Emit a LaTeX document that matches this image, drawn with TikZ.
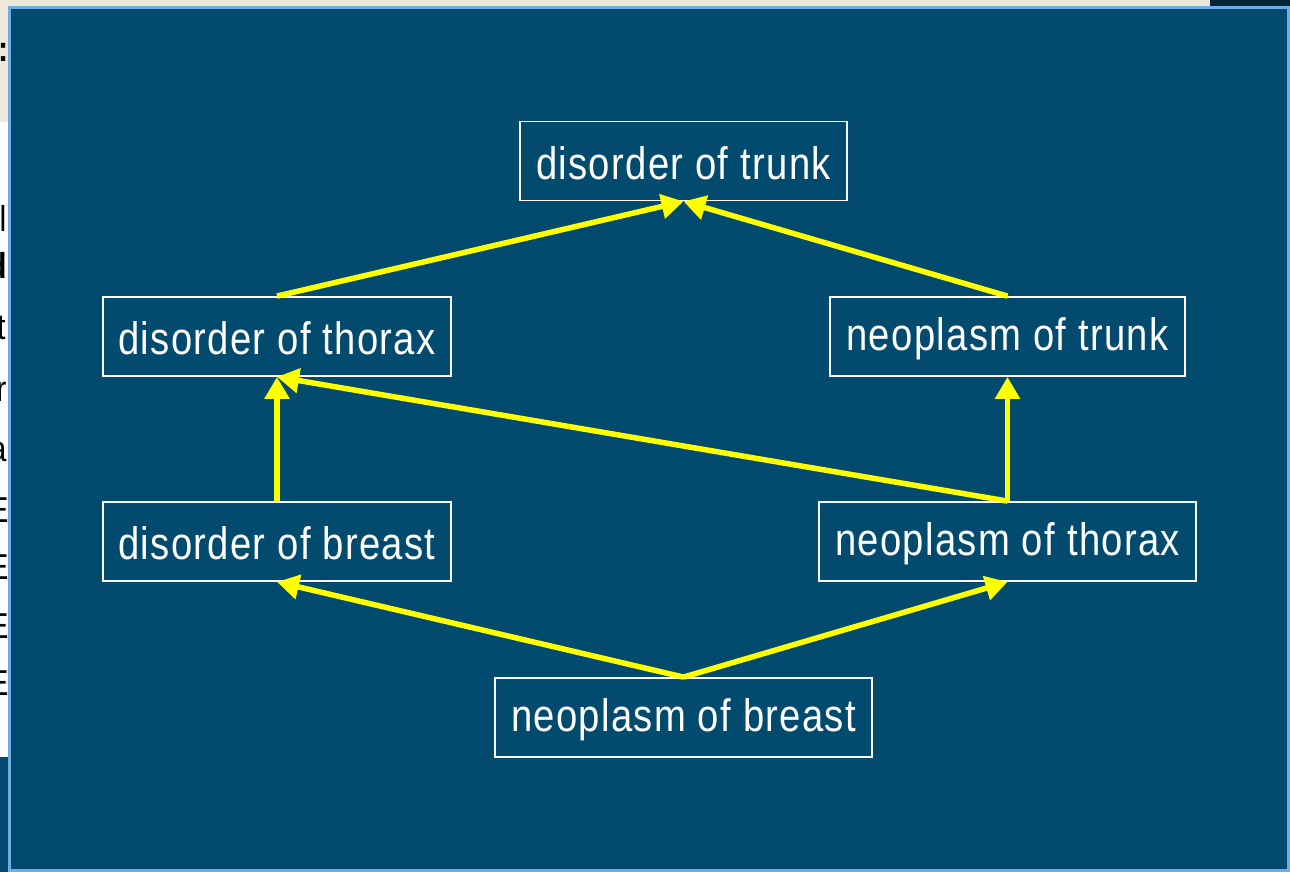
\documentclass[tikz,border=0pt]{standalone}
\usepackage{fontspec}
\setmainfont[FakeStretch=0.84,LetterSpace=2.9]{Liberation Sans}
\usetikzlibrary{arrows.meta}
\definecolor{slide}{HTML}{024B6F}
\definecolor{frameblue}{HTML}{6FAEE5}
\definecolor{beige}{HTML}{ECE9D8}
\definecolor{navy}{HTML}{062538}
\definecolor{arrowyellow}{HTML}{FFFF00}
\tikzset{
  concept/.style={draw=white, line width=1.8pt, text=white, font=\fontsize{45}{50}\selectfont,
    minimum height=79pt, inner xsep=0pt, anchor=center},
  label/.style={text=white, font=\fontsize{45.5}{50}\selectfont, inner sep=0pt, yshift=-2pt},
  isa/.style={draw=arrowyellow, line width=5.5pt,
    -{Triangle[length=22pt,width=24pt]}, shorten >=0pt}
}
\begin{document}
\begin{tikzpicture}[x=1pt,y=-1pt]
\useasboundingbox (0,0) rectangle (1290,872);
% window behind the slide
\fill[white] (0,0) rectangle (1290,872);
\fill[beige] (0,0) rectangle (1290,122);
\fill[navy] (1210,0) rectangle (1290,8);
\fill[slide] (0,757) rectangle (10,872);
\begin{scope}
  \clip (0,0) rectangle (8.5,757);
  \node[anchor=east, font=\fontsize{36}{40}\selectfont\bfseries] (c0) at (12,52) {]:};
  \node[anchor=east, font=\fontsize{36}{40}\selectfont] (c1) at (10,218) {l};
  \node[anchor=east, font=\fontsize{36}{40}\selectfont\bfseries] (c2) at (11,266) {d};
  \node[anchor=east, font=\fontsize{36}{40}\selectfont] (c3) at (9,328) {t};
  \node[anchor=east, font=\fontsize{36}{40}\selectfont] (c4) at (10,392) {r};
  \node[anchor=east, font=\fontsize{36}{40}\selectfont] (c5) at (10,452) {a};
  \node[anchor=east, font=\fontsize{36}{40}\selectfont] (c6) at (12,510) {E};
  \node[anchor=east, font=\fontsize{36}{40}\selectfont] (c7) at (12,567) {E};
  \node[anchor=east, font=\fontsize{36}{40}\selectfont] (c8) at (12,626) {E};
  \node[anchor=east, font=\fontsize{36}{40}\selectfont] (c9) at (12,683) {E};
\end{scope}
% slide panel
\fill[frameblue] (8,6) rectangle (1290,872);
\fill[slide] (11,9) rectangle (1287,869);

% concept boxes
\node[concept, minimum width=327pt] (trunk)   at (683.5,161)  {};
\node[concept, minimum width=348pt] (thorax)  at (277,336.5)  {};
\node[concept, minimum width=355pt] (ntrunk)  at (1007.5,336.5) {};
\node[concept, minimum width=348pt] (breast)  at (277,541.5)  {};
\node[concept, minimum width=377pt] (nthorax) at (1007.5,541.5) {};
\node[concept, minimum width=377pt] (nbreast) at (683.5,717.5) {};
% concept names
\node[label] (ttrunk)   at (trunk)   {disorder of trunk};
\node[label] (tthorax)  at (thorax)  {disorder of thorax};
\node[label] (tntrunk)  at (ntrunk)  {neoplasm of trunk};
\node[label] (tbreast)  at (breast)  {disorder of breast};
\node[label] (tnthorax) at (nthorax) {neoplasm of thorax};
\node[label] (tnbreast) at (nbreast) {neoplasm of breast};

% is-a links
\draw[isa] (thorax.north) -- (trunk.south);
\draw[isa] (ntrunk.north) -- (trunk.south);
\draw[isa] (breast.north) -- (thorax.south);
\draw[isa] (nthorax.north) -- (ntrunk.south);
\draw[isa] (nthorax.north) -- (thorax.south);
\draw[isa] (nbreast.north) -- (breast.south);
\draw[isa] (nbreast.north) -- (nthorax.south);
\end{tikzpicture}
\end{document}
